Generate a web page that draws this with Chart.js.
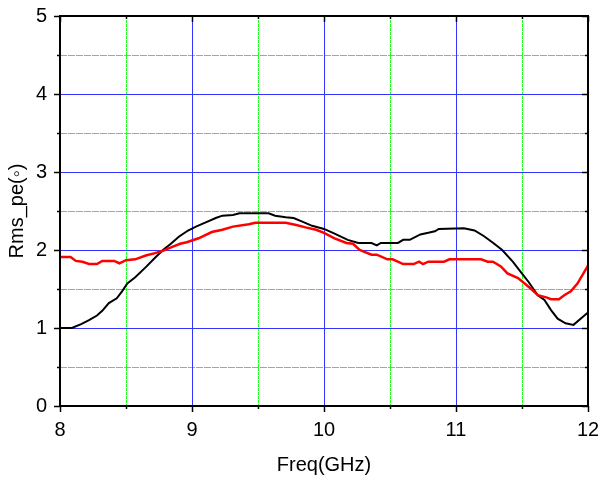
<!DOCTYPE html>
<html><head><meta charset="utf-8">
<script src="https://cdn.jsdelivr.net/npm/chart.js@4"></script>
<style>html,body{margin:0;padding:0;background:#fff}#w{width:598px;height:479px}</style>
</head><body><div id="w"><canvas id="c"></canvas></div>
<script>
const blackFreq = [8.0,8.09,8.16,8.22,8.28,8.32,8.37,8.43,8.47,8.51,8.57,8.65,8.72,8.78,8.84,8.90,8.97,9.03,9.10,9.18,9.23,9.31,9.36,9.58,9.63,9.71,9.77,9.84,9.91,10.0,10.08,10.18,10.26,10.36,10.40,10.43,10.56,10.60,10.65,10.73,10.79,10.84,10.87,11.06,11.14,11.21,11.29,11.35,11.43,11.49,11.55,11.62,11.67,11.72,11.77,11.83,11.89,12.0];
const blackRms = [1.0,1.0,1.05,1.1,1.16,1.22,1.32,1.38,1.47,1.57,1.65,1.78,1.9,2.0,2.08,2.17,2.25,2.3,2.35,2.41,2.44,2.45,2.47,2.47,2.44,2.42,2.41,2.36,2.31,2.27,2.21,2.13,2.09,2.09,2.06,2.09,2.09,2.13,2.13,2.2,2.22,2.24,2.27,2.28,2.25,2.18,2.08,2.0,1.85,1.72,1.59,1.42,1.36,1.23,1.12,1.06,1.04,1.20];
const redFreq = [8.0,8.08,8.12,8.17,8.22,8.28,8.32,8.41,8.45,8.50,8.57,8.65,8.72,8.78,8.85,8.91,8.96,9.05,9.15,9.23,9.31,9.43,9.48,9.71,9.79,9.86,9.94,10.0,10.08,10.17,10.22,10.27,10.36,10.40,10.48,10.52,10.60,10.68,10.72,10.75,10.79,10.91,10.95,11.19,11.24,11.28,11.34,11.39,11.47,11.52,11.57,11.62,11.69,11.72,11.78,11.82,11.87,11.92,12.0];
const redRms = [1.91,1.91,1.86,1.85,1.82,1.82,1.86,1.86,1.83,1.87,1.88,1.93,1.96,1.99,2.04,2.08,2.1,2.15,2.23,2.26,2.3,2.33,2.35,2.35,2.32,2.29,2.26,2.22,2.15,2.09,2.08,2.0,1.94,1.94,1.88,1.88,1.82,1.82,1.85,1.82,1.85,1.85,1.88,1.88,1.85,1.85,1.79,1.70,1.64,1.57,1.50,1.42,1.39,1.37,1.37,1.42,1.47,1.57,1.80];
const xTicks = [8,9,10,11,12];
const yTicks = [0,1,2,3,4,5];

const toPts = (xs, ys) => xs.map((x, i) => ({x, y: ys[i]}));
const FONT = 'Liberation Sans, Arial, sans-serif';

const gridPlugin = {
  id: 'gridPlugin',
  beforeDatasetsDraw(chart) {
    const {ctx, chartArea: a, scales: {x, y}} = chart;
    ctx.save();
    ctx.fillStyle = '#22ff22';
    for (let v = 8.5; v < 12; v += 1) {
      const px = Math.round(x.getPixelForValue(v));
      for (let p = Math.round(a.top); p < a.bottom; p += 4) ctx.fillRect(px, p, 1, 3);
    }
    for (let v = 0.5; v < 5; v += 1) {
      const py = Math.round(y.getPixelForValue(v));
      for (let p = Math.round(a.left); p < a.right; p += 8) ctx.fillRect(p, py, 7, 1);
    }
    ctx.fillStyle = '#3333ff';
    for (let v = 9; v < 12; v += 1) {
      const px = Math.round(x.getPixelForValue(v));
      ctx.fillRect(px, a.top, 1, a.bottom - a.top);
    }
    for (let v = 1; v < 5; v += 1) {
      const py = Math.round(y.getPixelForValue(v));
      ctx.fillRect(a.left, py, a.right - a.left, 1);
    }
    ctx.restore();
  },
  afterDatasetsDraw(chart) {
    const {ctx, chartArea: a, scales: {x, y}} = chart;
    ctx.save();
    ctx.strokeStyle = '#000';
    ctx.lineWidth = 2;
    ctx.strokeRect(a.left, a.top, a.right - a.left, a.bottom - a.top);
    ctx.lineWidth = 1.5;
    for (let v = 0; v <= 5; v += 0.5) {
      const py = Math.round(y.getPixelForValue(v)) + 0.5;
      const L = Number.isInteger(v) ? 6 : 3;
      ctx.beginPath(); ctx.moveTo(a.left - L, py); ctx.lineTo(a.left, py); ctx.stroke();
      ctx.beginPath(); ctx.moveTo(a.right, py); ctx.lineTo(a.right - L, py); ctx.stroke();
    }
    for (let v = 8; v <= 12; v += 0.5) {
      const px = Math.round(x.getPixelForValue(v)) + 0.5;
      const L = Number.isInteger(v) ? 6 : 3;
      ctx.beginPath(); ctx.moveTo(px, a.bottom); ctx.lineTo(px, a.bottom + L); ctx.stroke();
      ctx.beginPath(); ctx.moveTo(px, a.top); ctx.lineTo(px, a.top + L); ctx.stroke();
    }
    ctx.restore();
  }
};

new Chart(document.getElementById('c'), {
  type: 'line',
  data: {
    datasets: [
      {data: toPts(redFreq, redRms), borderColor: '#ff0000', borderWidth: 2.5, pointRadius: 0, tension: 0},
      {data: toPts(blackFreq, blackRms), borderColor: '#000000', borderWidth: 2, pointRadius: 0, tension: 0}
    ]
  },
  options: {
    responsive: true, maintainAspectRatio: false, animation: false,
    layout: {padding: {top: 16, right: 10, left: 0, bottom: 0}},
    plugins: {legend: {display: false}, tooltip: {enabled: false}},
    scales: {
      x: {
        type: 'linear', min: 8, max: 12,
        afterBuildTicks: s => { s.ticks = xTicks.map(v => ({value: v})); },
        afterFit: s => { s.height = 73; s.paddingLeft = 0; s.paddingRight = 0; },
        grid: {display: false, drawTicks: false},
        border: {display: false},
        ticks: {color: '#000', font: {family: FONT, size: 20}, padding: 12, maxRotation: 0},
        title: {display: true, text: 'Freq(GHz)', color: '#000', font: {family: FONT, size: 20}, padding: {top: 4, bottom: 2}}
      },
      y: {
        type: 'linear', min: 0, max: 5,
        afterBuildTicks: s => { s.ticks = yTicks.map(v => ({value: v})); },
        afterFit: s => { s.width = 60; s.paddingTop = 0; s.paddingBottom = 0; },
        grid: {display: false, drawTicks: false},
        border: {display: false},
        ticks: {color: '#000', font: {family: FONT, size: 20}, padding: 13},
        title: {display: true, text: 'Rms_pe(◦)', color: '#000', font: {family: FONT, size: 20}, padding: {top: 5, bottom: 0}}
      }
    }
  },
  plugins: [gridPlugin]
});
</script></body></html>
